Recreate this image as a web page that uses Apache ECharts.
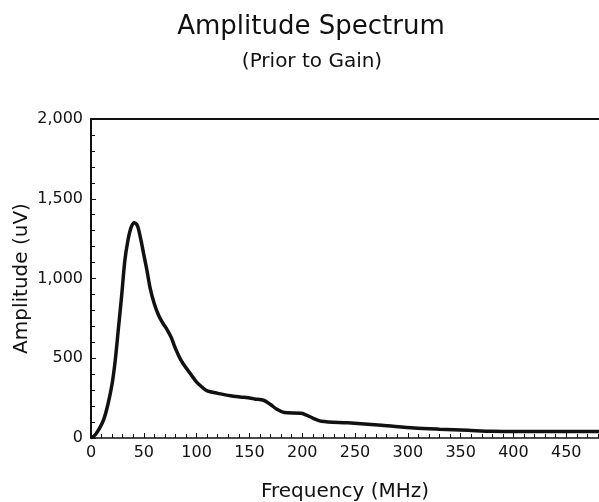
<!DOCTYPE html>
<html><head><meta charset="utf-8">
<script src="https://cdn.jsdelivr.net/npm/echarts@6/dist/echarts.min.js"></script>
<style>html,body{margin:0;padding:0;background:#fff}#c{width:599px;height:502px}</style>
</head><body><div id="c"></div>
<script>
const titleText = "Amplitude Spectrum";
const subtitleText = "(Prior to Gain)";
const xName = "Frequency (MHz)";
const yName = "Amplitude (uV)";
const frequency = [0,4,8,12,16,20,23,26,29,32,35,38,41,44,47,50,53,56,60,64,68,72,76,80,85,90,95,100,105,110,120,132,145,155,164,170,176,183,199,210,218,243,275,306,330,357,380,401,440,481];
const amplitude = [0,20,60,115,210,340,490,690,890,1110,1240,1320,1350,1330,1250,1150,1050,940,840,770,720,680,630,560,490,440,395,350,320,295,280,265,255,245,235,210,180,160,155,125,105,95,80,63,55,48,42,40,40,40];

const font = "DejaVu Sans, Liberation Sans, sans-serif";
const chart = echarts.init(document.getElementById('c'));
chart.setOption({
  animation: false,
  backgroundColor: '#fff',
  title: [{
    text: titleText, left: 306, textAlign: 'center', top: 9,
    textStyle: {fontFamily: font, fontSize: 26, fontWeight: 'normal', color: '#111'}
  }, {
    text: subtitleText, left: 307, textAlign: 'center', top: 47,
    textStyle: {fontFamily: font, fontSize: 20, fontWeight: 'normal', color: '#111'}
  }],
  grid: {left: 91, top: 119, right: 0, bottom: 64, containLabel: false, outerBoundsMode: 'none'},
  xAxis: [{
    type: 'value', min: 0, max: 481, interval: 50,
    name: xName, nameLocation: 'middle', nameGap: 44, nameMoveOverlap: false,
    nameTextStyle: {fontFamily: font, fontSize: 20, color: '#111'},
    axisLine: {lineStyle: {color: '#111', width: 1.5}},
    axisTick: {inside: true, length: 5, lineStyle: {color: '#111'}},
    minorTick: {show: true, splitNumber: 5, length: 4, lineStyle: {color: '#111'}},
    axisLabel: {fontFamily: font, fontSize: 16, color: '#111', margin: 7, showMaxLabel: false},
    splitLine: {show: false}
  }, {
    type: 'value', position: 'top', min: 0, max: 481,
    axisLine: {show: true, lineStyle: {color: '#111', width: 2}},
    axisTick: {show: false}, axisLabel: {show: false}, splitLine: {show: false}
  }],
  yAxis: {
    type: 'value', min: 0, max: 2000, interval: 500,
    name: yName, nameLocation: 'middle', nameGap: 59, nameMoveOverlap: false,
    nameTextStyle: {fontFamily: font, fontSize: 20, color: '#111'},
    axisLine: {show: true, lineStyle: {color: '#111', width: 2}},
    axisTick: {show: true, inside: true, length: 5, lineStyle: {color: '#111'}},
    minorTick: {show: true, splitNumber: 5, length: 4, lineStyle: {color: '#111'}},
    axisLabel: {fontFamily: font, fontSize: 16, color: '#111', margin: 8,
      formatter: v => v.toLocaleString('en-US')},
    splitLine: {show: false}
  },
  series: [{
    type: 'line', xAxisIndex: 0,
    data: frequency.map((f, i) => [f, amplitude[i]]),
    smooth: 0.3, showSymbol: false,
    lineStyle: {color: '#111', width: 3.5}
  }]
});
</script></body></html>
